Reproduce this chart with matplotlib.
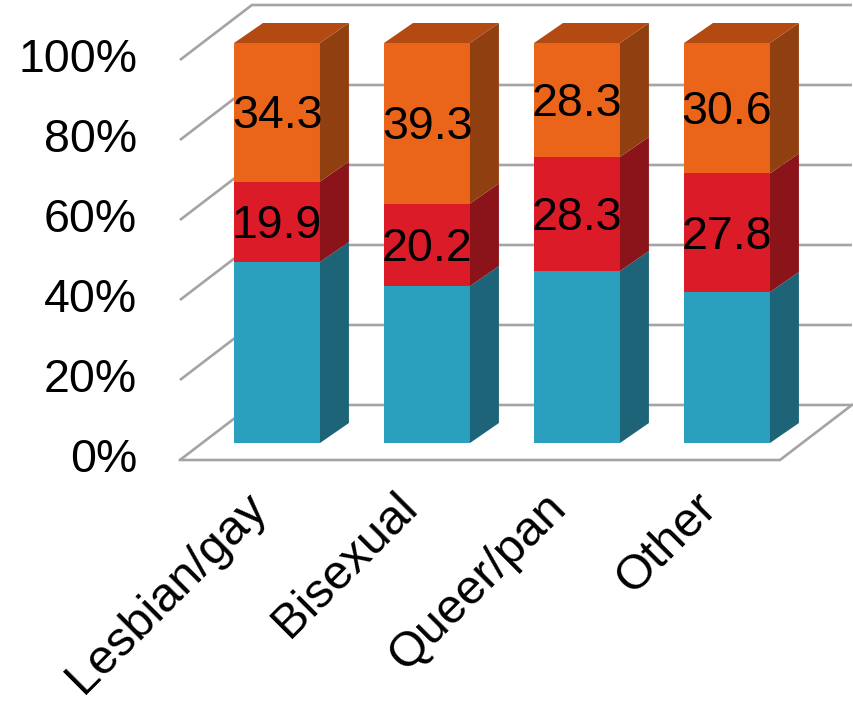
import matplotlib
matplotlib.use("Agg")
import matplotlib.pyplot as plt
from matplotlib.patches import Polygon
import numpy as np

plt.rcParams['font.family'] = ['Liberation Sans', 'DejaVu Sans']

categories = ["Lesbian/gay", "Bisexual", "Queer/pan", "Other"]
blue_vals = [44.8, 38.4, 42.7, 35.4]       # unlabeled bottom segment (estimated)
red_vals = [19.9, 20.2, 28.3, 27.8]
orange_vals = [34.3, 39.3, 28.3, 30.6]
y_ticks = [0, 20, 40, 60, 80, 100]
y_tick_labels = ["0%", "20%", "40%", "60%", "80%", "100%"]

# 100% stacked: normalise each column
raw = np.array([blue_vals, red_vals, orange_vals], dtype=float)
share = raw / raw.sum(axis=0) * 100

front_cols = ["#2AA0BE", "#DB1C28", "#EA651A"]
side_cols = ["#1E6478", "#8B131A", "#904010"]
top_col = "#B24A12"

fig = plt.figure(figsize=(8.54, 7.03), dpi=100)
ax = fig.add_axes([0, 0, 1, 1])
ax.set_xlim(-277 / 150, (854 - 277) / 150)
ax.set_ylim(-65, 110.75)
ax.axis("off")

x = np.arange(len(categories))
w = 0.573
ddx, ddy = 0.193, 5.0          # bar depth offset
fx0, fx1 = -0.647, 3.353       # floor front edge
bx0, bx1 = -0.167, 3.833       # back wall
f_off, b_off = -4.25, 9.5      # depth offsets of floor front / back

grid_c = "#A4A4A4"
for v in y_ticks:
    ax.plot([fx0, bx0, bx1], [v + f_off, v + b_off, v + b_off],
            color=grid_c, lw=1.9, zorder=1, solid_capstyle="butt")
ax.plot([fx0, fx1, bx1], [f_off, f_off, b_off], color=grid_c, lw=1.9, zorder=1)

for t, lab in zip(y_ticks, y_tick_labels):
    ax.text(-0.933, t + f_off, lab, ha="right", va="center", fontsize=33.5,
            color="black")

bottom = np.zeros(len(categories))
for k in range(3):
    vals = share[k]
    ax.bar(x, vals, bottom=bottom, width=w, color=front_cols[k], zorder=3,
           linewidth=0)
    for i in range(len(categories)):
        xr = x[i] + w / 2
        b, t = bottom[i], bottom[i] + vals[i]
        ax.add_patch(Polygon([(xr, b), (xr, t), (xr + ddx, t + ddy), (xr + ddx, b + ddy)],
                             closed=True, facecolor=side_cols[k], edgecolor="none", zorder=3))
        if k > 0:
            lab = [red_vals, orange_vals][k - 1][i]
            ax.text(x[i], b + vals[i] / 2 - 1, f"{lab:.1f}", ha="center", va="center",
                    fontsize=33.5, color="black", zorder=5)
    bottom = bottom + vals

for i in range(len(categories)):
    xl, xr = x[i] - w / 2, x[i] + w / 2
    ax.add_patch(Polygon([(xl, 100), (xr, 100), (xr + ddx, 100 + ddy), (xl + ddx, 100 + ddy)],
                         closed=True, facecolor=top_col, edgecolor="none", zorder=3))

for i, c in enumerate(categories):
    ax.text(x[i] - 0.115, -14.3, c, rotation=45, rotation_mode="anchor",
            ha="right", va="center", fontsize=35, color="black")

fig.savefig("out.png", dpi=100)
